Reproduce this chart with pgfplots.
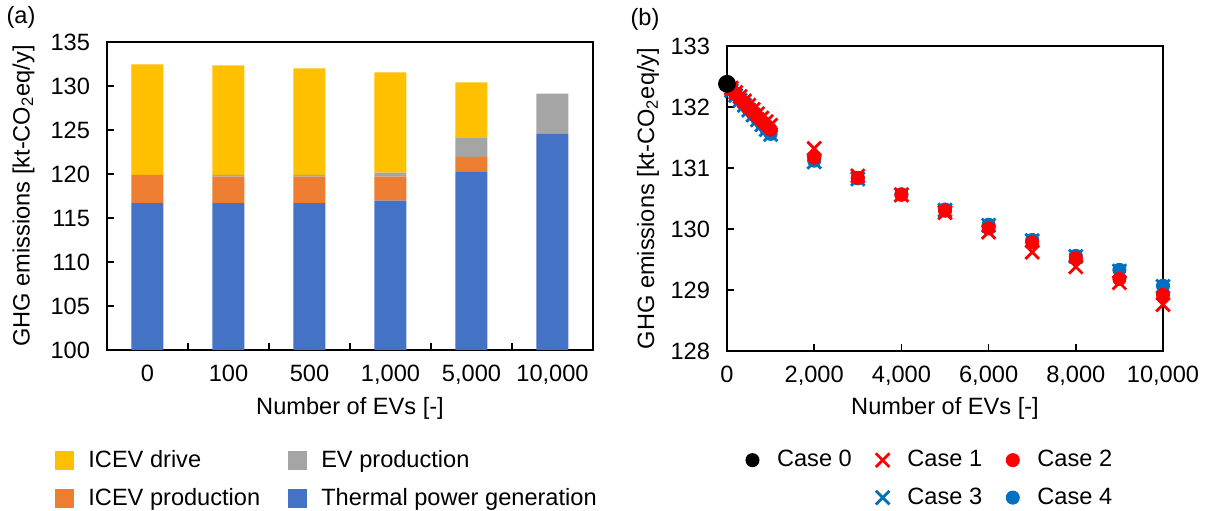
\documentclass[border=0pt]{standalone}
\usepackage{pgfplots}
\pgfplotsset{compat=1.18}
\usepackage{fontspec}
\setmainfont{Liberation Sans}

\definecolor{cdrive}{HTML}{FFC000}
\definecolor{cicev}{HTML}{ED7D31}
\definecolor{cev}{HTML}{A5A5A5}
\definecolor{cthermal}{HTML}{4472C4}
\definecolor{cred}{HTML}{FF0000}
\definecolor{cblue}{HTML}{0070C0}

\pgfplotsset{
  myaxis/.style={
    scale only axis,
    axis line style={line width=1bp},
    tick align=inside,
    xtick pos=bottom, ytick pos=left,
    major tick length=3.5bp, minor tick length=3.5bp,
    tick style={black, line width=0.8bp},
    /pgf/number format/assume math mode=true,
    yticklabel style={xshift=-5bp},
    xticklabel style={yshift=-4bp},
    xlabel style={at={(axis description cs:0.5,-0.188)}, anchor=center},
    ylabel style={anchor=center},
    legend cell align=left,
  }
}

\begin{document}
\begin{tikzpicture}[font=\fontsize{11.8bp}{14bp}\selectfont]
\useasboundingbox (0bp,0bp) rectangle (603.5bp,255.5bp);

\node at (10.5bp,247bp) {(a)};
\node at (322.5bp,246bp) {(b)};

% (a) stacked bars
\begin{axis}[
  myaxis,
  at={(53.5bp,80.5bp)}, anchor=south west,
  width=243bp, height=154bp,
  ybar stacked, bar width=16bp,
  xmin=-0.5, xmax=5.5,
  ymin=100, ymax=135,
  ytick={100,105,...,135},
  xtick={0,...,5},
  xticklabels={0,100,500,{1,000},{5,000},{10,000}},
  major x tick style={draw=none},
  minor xtick={0.5,1.5,2.5,3.5,4.5},
  xlabel={Number of EVs [-]},
  ylabel={GHG emissions [kt-CO\textsubscript{2}eq/y]},
  ylabel style={at={(axis description cs:-0.172,0.5)}},
  legend columns=2,
  legend style={at={(axis description cs:-0.107,-0.305)}, anchor=north west,
    draw=none, fill=none, inner sep=0pt, row sep=3bp,
    /tikz/every odd column/.append style={column sep=4bp},
    /tikz/every even column/.append style={column sep=11bp},
    nodes={inner sep=3bp}},
  area legend,
  legend image code/.code={\fill[#1] (0bp,-4.75bp) rectangle (9.5bp,4.75bp);},
]
\addplot[fill=cthermal, draw=none, forget plot] coordinates {(0,116.7) (1,116.7) (2,116.7) (3,116.97) (4,120.3) (5,124.57)};
\addplot[fill=cicev, draw=none, forget plot] coordinates {(0,3.2) (1,3.0) (2,3.0) (3,2.73) (4,1.65) (5,0)};
\addplot[fill=cev, draw=none, forget plot] coordinates {(0,0) (1,0.2) (2,0.2) (3,0.45) (4,2.2) (5,4.55)};
\addplot[fill=cdrive, draw=none, forget plot] coordinates {(0,12.56) (1,12.45) (2,12.1) (3,11.4) (4,6.25) (5,0)};
\addlegendimage{fill=cdrive, draw=none}
\addlegendentry{ICEV drive}
\addlegendimage{fill=cev, draw=none}
\addlegendentry{EV production}
\addlegendimage{fill=cicev, draw=none}
\addlegendentry{ICEV production}
\addlegendimage{fill=cthermal, draw=none}
\addlegendentry{Thermal power generation}
\end{axis}

% (b) scatter
\begin{axis}[
  myaxis,
  at={(363.5bp,80bp)}, anchor=south west,
  width=218bp, height=152.5bp,
  xmin=0, xmax=10000, ymin=128, ymax=133,
  xtick={0,2000,...,10000},
  ytick={128,129,...,133},
  /pgf/number format/.cd, 1000 sep={,}, /pgfplots/.cd,
  scaled x ticks=false,
  xlabel={Number of EVs [-]},
  ylabel={GHG emissions [kt-CO\textsubscript{2}eq/y]},
  ylabel style={at={(axis description cs:-0.181,0.5)}},
  clip=false,
  legend columns=3,
  legend style={at={(axis description cs:0.03,-0.305)}, anchor=north west,
    draw=none, fill=none, inner sep=0pt, row sep=3bp,
    /tikz/every odd column/.append style={column sep=6bp},
    /tikz/every even column/.append style={column sep=9bp},
    nodes={inner sep=3bp}},
  legend image code/.code={\draw[mark repeat=2,mark phase=2,#1] plot coordinates {(0bp,0bp) (6bp,0bp) (12bp,0bp)};},
]
% Case 3
\addplot[only marks, mark=x, mark size=4.8bp, cblue, line width=1.4bp, forget plot] coordinates {
(100,132.27) (200,132.19) (300,132.11) (400,132.03) (500,131.95) (600,131.87) (700,131.79) (800,131.71) (900,131.63) (1000,131.55)
(2000,131.10) (3000,130.82) (4000,130.56) (5000,130.31) (6000,130.06) (7000,129.81) (8000,129.55) (9000,129.31) (10000,129.06)};
% Case 4
\addplot[only marks, mark=*, mark size=3.3bp, cblue, forget plot] coordinates {
(100,132.28) (200,132.20) (300,132.12) (400,132.04) (500,131.96) (600,131.88) (700,131.80) (800,131.72) (900,131.64) (1000,131.56)
(2000,131.12) (3000,130.83) (4000,130.57) (5000,130.32) (6000,130.07) (7000,129.82) (8000,129.56) (9000,129.33) (10000,129.07)};
% Case 1
\addplot[only marks, mark=x, mark size=4.8bp, cred, line width=1.4bp, forget plot] coordinates {
(100,132.31) (200,132.24) (300,132.17) (400,132.10) (500,132.03) (600,131.96) (700,131.89) (800,131.82) (900,131.76) (1000,131.70)
(2000,131.32) (3000,130.87) (4000,130.56) (5000,130.27) (6000,129.95) (7000,129.62) (8000,129.38) (9000,129.12) (10000,128.76)};
% Case 2
\addplot[only marks, mark=*, mark size=3.3bp, cred, forget plot] coordinates {
(100,132.30) (200,132.22) (300,132.14) (400,132.07) (500,131.99) (600,131.92) (700,131.84) (800,131.77) (900,131.70) (1000,131.63)
(2000,131.17) (3000,130.84) (4000,130.56) (5000,130.30) (6000,130.01) (7000,129.78) (8000,129.52) (9000,129.18) (10000,128.92)};
% Case 0
\addplot[only marks, mark=*, mark size=4.25bp, black, forget plot] coordinates {(0,132.38)};

\addlegendimage{only marks, mark=*, mark size=3.3bp, black}
\addlegendentry{Case 0}
\addlegendimage{only marks, mark=x, mark size=4.8bp, cred, line width=1.4bp}
\addlegendentry{Case 1}
\addlegendimage{only marks, mark=*, mark size=3.3bp, cred}
\addlegendentry{Case 2}
\addlegendimage{empty legend}
\addlegendentry{}
\addlegendimage{only marks, mark=x, mark size=4.8bp, cblue, line width=1.4bp}
\addlegendentry{Case 3}
\addlegendimage{only marks, mark=*, mark size=3.3bp, cblue}
\addlegendentry{Case 4}
\end{axis}
\end{tikzpicture}
\end{document}
